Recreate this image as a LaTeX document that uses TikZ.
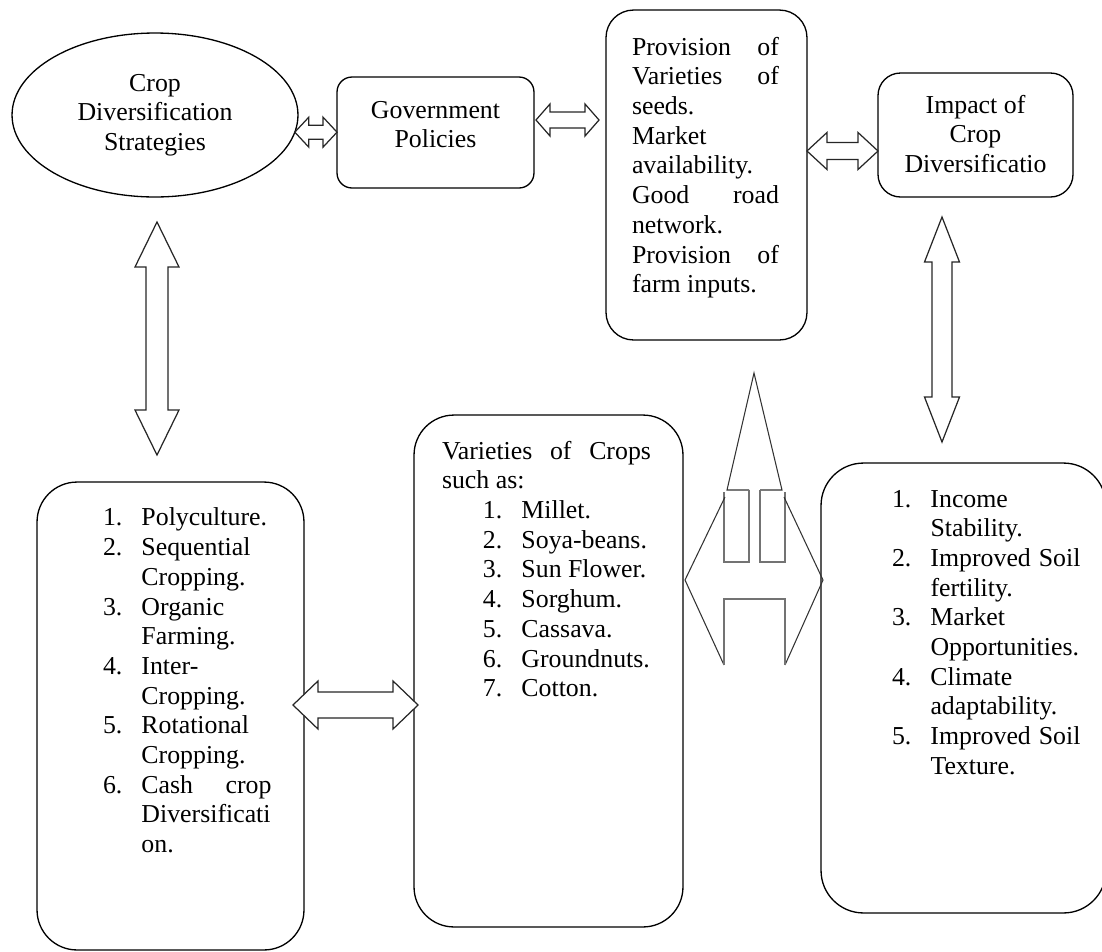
\documentclass[tikz,border=0pt]{standalone}
\usepackage{fontspec}
\setmainfont{Liberation Serif}
\usetikzlibrary{shapes.geometric,calc}

\newlength{\pxl}
\setlength{\pxl}{0.02cm}
\newcommand{\diagfont}{\fontsize{14.7pt}{16.9pt}\selectfont}
\newcommand{\lstitem}[2]{\makebox[0.77cm][l]{#1}#2}
\newcommand{\blockh}[5]{%
\draw[blockarr] let \p1=(#1), \p2=(#2) in
 (\x1,\y1) -- (\x1+#5*\pxl,\y1+#4*\pxl) -- (\x1+#5*\pxl,\y1+#3*\pxl) -- (\x2-#5*\pxl,\y1+#3*\pxl)
 -- (\x2-#5*\pxl,\y1+#4*\pxl) -- (\x2,\y1) -- (\x2-#5*\pxl,\y1-#4*\pxl) -- (\x2-#5*\pxl,\y1-#3*\pxl)
 -- (\x1+#5*\pxl,\y1-#3*\pxl) -- (\x1+#5*\pxl,\y1-#4*\pxl) -- cycle;}
\newcommand{\blockv}[5]{%
\draw[blockarr] let \p1=(#1), \p2=(#2) in
 (\x1,\y1) -- (\x1+#4*\pxl,\y1-#5*\pxl) -- (\x1+#3*\pxl,\y1-#5*\pxl) -- (\x1+#3*\pxl,\y2+#5*\pxl)
 -- (\x1+#4*\pxl,\y2+#5*\pxl) -- (\x1,\y2) -- (\x1-#4*\pxl,\y2+#5*\pxl) -- (\x1-#3*\pxl,\y2+#5*\pxl)
 -- (\x1-#3*\pxl,\y1-#5*\pxl) -- (\x1-#4*\pxl,\y1-#5*\pxl) -- cycle;}

\tikzset{
  roundbox/.style={draw, rectangle, line width=0.75pt},
  txt/.style={font=\diagfont, align=left, anchor=north west},
  blockarr/.style={draw=black!85, line width=0.7pt, fill=white},
  shapeln/.style={draw=black!80, line width=0.6pt},
  rectln/.style={draw=black!55, line width=1pt}
}

\begin{document}
\begin{tikzpicture}[x=0.02cm,y=0.02cm]
\tikzstyle{every node}+=[inner sep=0pt, outer sep=0pt]
\useasboundingbox (0,0) rectangle (1102,-951);

\node[ellipse, draw, line width=0.75pt, minimum width=5.72cm, minimum height=3.28cm, align=center, font=\diagfont] (strat) at (155,-115) {Crop\\Diversification\\Strategies};
\node[roundbox, rounded corners=0.3cm, minimum width=3.94cm, minimum height=2.22cm] (gov) at (435.5,-132.5) {};
\node[font=\diagfont, align=center] (govtxt) at (435.5,-124.5) {Government\\Policies};
\node[roundbox, rounded corners=0.55cm, minimum width=4.02cm, minimum height=6.6cm] (prov) at (706.5,-175) {};
\node[txt] (provtxt) at (632,-37) {\makebox[2.94cm][s]{Provision of}\\\makebox[2.94cm][s]{Varieties of}\\seeds.\\Market\\availability.\\\makebox[2.94cm][s]{Good road}\\network.\\\makebox[2.94cm][s]{Provision of}\\farm inputs.};
\node[roundbox, rounded corners=0.45cm, minimum width=3.9cm, minimum height=2.48cm] (impact) at (975.5,-135) {};
\node[font=\diagfont, align=center] (impacttxt) at (975.5,-134) {Impact of\\Crop\\Diversificatio};

\node[roundbox, rounded corners=0.8cm, minimum width=5.34cm, minimum height=9.36cm] (strats) at (170.5,-716) {};
\node[txt] (stratlist) at (103,-508) {\lstitem{1.}{Polyculture.}\\\lstitem{2.}{Sequential}\\\lstitem{}{Cropping.}\\\lstitem{3.}{Organic}\\\lstitem{}{Farming.}\\\lstitem{4.}{Inter-}\\\lstitem{}{Cropping.}\\\lstitem{5.}{Rotational}\\\lstitem{}{Cropping.}\\\lstitem{6.}{\makebox[2.6cm][s]{Cash crop}}\\\lstitem{}{Diversificati}\\\lstitem{}{on.}};
\node[roundbox, rounded corners=0.8cm, minimum width=5.38cm, minimum height=10.24cm] (crops) at (548.5,-671) {};
\node[txt] (croplist) at (442,-441) {\makebox[4.18cm][s]{Varieties of Crops}\\such as:\\\hspace*{0.82cm}\lstitem{1.}{Millet.}\\\hspace*{0.82cm}\lstitem{2.}{Soya-beans.}\\\hspace*{0.82cm}\lstitem{3.}{Sun Flower.}\\\hspace*{0.82cm}\lstitem{4.}{Sorghum.}\\\hspace*{0.82cm}\lstitem{5.}{Cassava.}\\\hspace*{0.82cm}\lstitem{6.}{Groundnuts.}\\\hspace*{0.82cm}\lstitem{7.}{Cotton.}};
\node[roundbox, rounded corners=0.85cm, minimum width=5.7cm, minimum height=9cm] (impacts) at (963.5,-688) {};
\node[txt] (implist) at (892,-490) {\lstitem{1.}{Income}\\\lstitem{}{Stability.}\\\lstitem{2.}{\makebox[3cm][s]{Improved Soil}}\\\lstitem{}{fertility.}\\\lstitem{3.}{Market}\\\lstitem{}{Opportunities.}\\\lstitem{4.}{Climate}\\\lstitem{}{adaptability.}\\\lstitem{5.}{\makebox[3cm][s]{Improved Soil}}\\\lstitem{}{Texture.}};

\blockh{strat.-7}{gov.west}{7}{15}{14}
\blockh{$(gov.east)+(2,12.5)$}{$(prov.west)+(-7,0)$}{8}{16}{14}
\blockh{$(prov.east)+(0,24)$}{impact.west}{8.5}{18.5}{20}
\blockh{$(strats.east)+(-11,11)$}{$(crops.west)+(4,0)$}{13}{24}{25}
\blockv{$(strat.south)+(2,-25)$}{$(strats.north)+(0,27)$}{11}{22}{45}
\blockv{$(impact.south)+(-33.5,-20)$}{$(impacts.north)+(0,21)$}{10}{17.5}{45}

\draw[shapeln] (749,-490) -- (727,-490) -- (754,-373) -- (782,-490) -- (760,-490);
\draw[rectln] (724,-492) -- (724,-562) -- (749,-562) -- (749,-490);
\draw[rectln] (760,-490) -- (760,-562) -- (785,-562) -- (785,-492);
\draw[shapeln] (725,-497) -- (685,-580) -- (724,-665);
\draw[shapeln] (784,-497) -- (823,-580) -- (785,-665);
\draw[rectln] (724,-665) -- (724,-599) -- (785,-599) -- (785,-665);
\end{tikzpicture}
\end{document}
